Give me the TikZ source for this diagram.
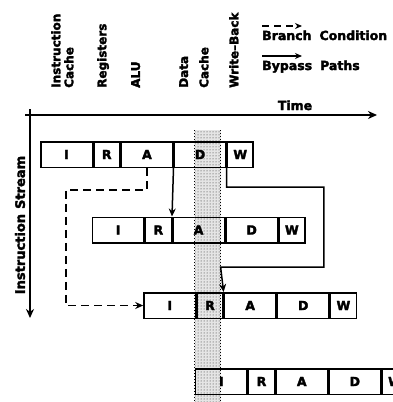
\documentclass[tikz,border=0pt]{standalone}
\usepackage{fontspec}
\setmainfont{DejaVu Sans}[BoldFeatures={FakeBold=2.5}]
\usetikzlibrary{arrows.meta,patterns}
\newcommand{\pipeunit}{25.8pt}
\newcommand{\pipeRow}[3]{%
  \node[cell,minimum width=2*\pipeunit] (#1I) at (#2,#3) {I\hspace{7pt}};
  \node[cell,minimum width=\pipeunit] (#1R) at (#1I.north east) {R};
  \node[cell,minimum width=2*\pipeunit] (#1A) at (#1R.north east) {A};
  \node[cell,minimum width=2*\pipeunit] (#1D) at (#1A.north east) {D};
  \node[cell,minimum width=\pipeunit] (#1W) at (#1D.north east) {W};
}
\begin{document}
\begin{tikzpicture}[x=1pt,y=-1pt,
  cell/.style={draw, line width=1.5pt, anchor=north west, minimum height=25.5pt,
    inner sep=0pt, font=\fontsize{12.5}{13}\selectfont\bfseries},
  hdr/.style={rotate=90, anchor=north west, inner sep=0pt,
    font=\fontsize{12}{13}\selectfont\bfseries},
  lbl/.style={inner sep=0pt, font=\fontsize{12.5}{14}\selectfont\bfseries},
  conn/.style={line width=1.5pt, -{Stealth[length=8pt,width=7pt]}},
  branch/.style={conn, dash pattern=on 8pt off 5pt},
  axis/.style={line width=1.8pt, -{Stealth[length=9pt,width=8pt]}}
]
\useasboundingbox (0,0) rectangle (392,402);
\fill[white] (0,0) rectangle (392,402);

% stippled band (data cache column)
\fill[black!10] (194.8,130) rectangle (220.6,402);
\fill[pattern=dots, pattern color=black!85] (194.8,130) rectangle (220.6,402);
\draw[line width=1pt, dotted] (194.8,130) -- (194.8,402) (220.6,130) -- (220.6,402);

% headers
\node[hdr] (hIC1) at (51,88) {Instruction};
\node[hdr] (hIC2) at (64,88) {Cache};
\node[hdr] (hRG) at (97,88) {Registers};
\node[hdr] (hAL) at (131,88) {ALU};
\node[hdr] (hDC1) at (179,88) {Data};
\node[hdr] (hDC2) at (199,88) {Cache};
\node[hdr] (hWB) at (229,88) {Write--Back};

% legend
\coordinate (lba) at (262,26);
\coordinate (lbb) at (302,26);
\draw[line width=1.4pt, dash pattern=on 7pt off 5pt, -{Stealth[length=7pt,width=6pt]}] (lba) -- (lbb);
\node[lbl, anchor=base west] (lgB) at (262,40) {Branch\hspace{8pt}Condition};
\coordinate (lpa) at (262,56);
\coordinate (lpb) at (302,56);
\draw[line width=1.4pt, -{Stealth[length=7pt,width=6pt]}] (lpa) -- (lpb);
\node[lbl, anchor=base west] (lgP) at (262,70) {Bypass\hspace{8pt}Paths};

% axes
\coordinate (ha) at (25,115);
\coordinate (hb) at (377,115);
\draw[axis] (ha) -- (hb);
\node[lbl, anchor=base] (tm) at (295,110) {Time};
\coordinate (va) at (30,109);
\coordinate (vb) at (30,318);
\draw[axis] (va) -- (vb);
\node[lbl, rotate=90, font=\fontsize{13}{15}\selectfont\bfseries] (is) at (20,225) {Instruction\hspace{5pt}Stream};

% pipeline rows
\pipeRow{ra}{40}{141}
\pipeRow{rb}{91.6}{216.5}
\pipeRow{rc}{143.2}{292}
\pipeRow{rd}{194.8}{368}

% branch condition path
\coordinate (cb) at (65.8,190);
\draw[branch] (raA.south) |- (cb) |- (rcI.west);

% bypass paths
\draw[conn] (raA.south east) -- (rbR.north east);
\coordinate (c1) at (323.8,187);
\coordinate (c2) at (220.6,267);
\draw[conn] (raW.south west) |- (c1) |- (c2) -- (rcR.north east);
\end{tikzpicture}
\end{document}
